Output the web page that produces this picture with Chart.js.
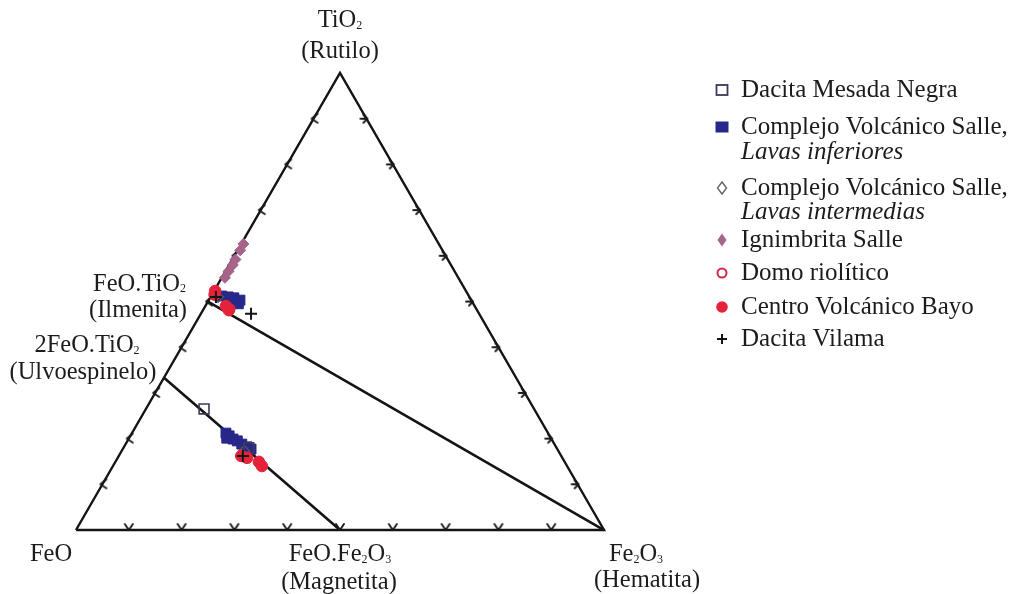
<!DOCTYPE html>
<html>
<head>
<meta charset="utf-8">
<script src="https://cdn.jsdelivr.net/npm/chart.js@4.4.1/dist/chart.umd.min.js"></script>
<style>
  html, body { margin: 0; padding: 0; background: #ffffff; }
  canvas { display: block; }
</style>
</head>
<body>
<canvas id="c" width="1011" height="594"></canvas>
<script>
// Oxide compositions, molar %: [TiO2, FeO, Fe2O3]
const dacitaMesadaNegra = [[26.5, 62.5, 11.0], [18.0, 58.3, 23.7]];
const lavasInferiores = [
  [51.2, 46.8, 2.0], [51.0, 45.7, 3.3], [50.8, 44.7, 4.5], [50.3, 43.8, 5.9],
  [49.7, 45.6, 4.7], [49.5, 44.5, 6.0],
  [21.2, 61.0, 17.8], [20.6, 60.7, 18.7], [20.1, 61.4, 18.5], [19.9, 60.3, 19.8],
  [19.5, 59.7, 20.8], [18.8, 59.2, 22.0], [18.2, 58.5, 23.3], [17.7, 58.0, 24.3]
];
const lavasIntermedias = [[51.0, 47.6, 1.4], [17.3, 59.5, 23.2]];
const ignimbritaSalle = [
  [62.6, 37.0, 0.4], [61.2, 38.3, 0.5], [59.2, 40.2, 0.6], [58.0, 41.3, 0.7],
  [56.6, 42.8, 0.6], [55.2, 44.2, 0.6]
];
const domoRiolitico = [[48.4, 46.6, 5.0], [16.0, 60.2, 23.8]];
const centroVolcanicoBayo = [
  [52.3, 47.5, 0.2], [51.5, 48.0, 0.5], [49.0, 47.1, 3.9], [48.1, 47.0, 4.9],
  [16.2, 60.6, 23.2], [15.8, 59.7, 24.5], [14.9, 57.9, 27.2], [14.0, 57.8, 28.2]
];
const dacitaVilama = [[47.3, 43.2, 9.5], [51.0, 48.0, 1.0], [16.2, 60.3, 23.5]];

// End-members
const rutilo = [100, 0, 0];
const wustita = [0, 100, 0];
const hematita = [0, 0, 100];
const ilmenita = [50, 50, 0];
const ulvoespinelo = [33.333, 66.667, 0];
const magnetita = [0, 50, 50];

// Tick positions along each side (%)
const tickSteps = [10, 20, 30, 40, 50, 60, 70, 80, 90];

// Legend text
const legendNames = ['Dacita Mesada Negra', 'Complejo Volcánico Salle,', 'Complejo Volcánico Salle,',
  'Ignimbrita Salle', 'Domo riolítico', 'Centro Volcánico Bayo', 'Dacita Vilama'];
const legendSubNames = ['', 'Lavas inferiores', 'Lavas intermedias', '', '', '', ''];

// Ternary -> plot coordinates: x across the base (FeO -> Fe2O3), y = TiO2 fraction
function toXY(c) {
  const s = c[0] + c[1] + c[2];
  const t = c[0] / s, h = c[2] / s;
  return { x: h + t / 2, y: t };
}
const pts = arr => arr.map(toXY);

// Small chevron tick glyphs, tip at the canvas centre
function chevron(kind) {
  const c = document.createElement('canvas');
  c.width = 20; c.height = 20;
  const g = c.getContext('2d');
  g.strokeStyle = '#1a1a1a';
  g.lineWidth = 1.9;
  g.lineCap = 'round';
  g.lineJoin = 'round';
  g.beginPath();
  if (kind === 'down') {
    g.moveTo(6, 4); g.lineTo(10, 10); g.lineTo(14, 4);
  } else if (kind === 'left') {
    g.moveTo(14, 5); g.lineTo(8, 10); g.lineTo(14, 14);
  } else {
    g.moveTo(7, 6); g.lineTo(11, 10); g.lineTo(7, 14);
    g.moveTo(4, 10); g.lineTo(11, 10);
  }
  g.stroke();
  return c;
}

const BLACK = '#141414';
const NAVY = '#28288a';
const MAUVE = '#a6648a';
const RED = '#e6223a';
const CRIMSON = '#cc2a4a';

function lineSet(a, b, width) {
  return {
    type: 'scatter', data: pts([a, b]), showLine: true, pointRadius: 0,
    borderColor: BLACK, borderWidth: width, order: 5
  };
}

const datasets = [
  { // triangle outline
    type: 'scatter', data: pts([wustita, hematita, rutilo, wustita]), showLine: true,
    pointRadius: 0, borderColor: BLACK, borderWidth: 2.4, order: 5
  },
  lineSet(ulvoespinelo, magnetita, 2.6),
  lineSet(ilmenita, hematita, 2.6),
  { // base ticks
    type: 'scatter', data: tickSteps.map(p => toXY([0, 100 - p, p])),
    pointStyle: chevron('down'), pointRadius: 10, order: 4
  },
  { // left side ticks
    type: 'scatter', data: tickSteps.map(p => toXY([p, 100 - p, 0])),
    pointStyle: chevron('left'), pointRadius: 10, order: 4
  },
  { // right side ticks
    type: 'scatter', data: tickSteps.map(p => toXY([p, 0, 100 - p])),
    pointStyle: chevron('right'), pointRadius: 10, order: 4
  },
  {
    label: 'Complejo Volcánico Salle, Lavas inferiores', data: pts(lavasInferiores),
    pointStyle: 'rect', pointRadius: 7, backgroundColor: NAVY, borderColor: NAVY, borderWidth: 1, order: 3
  },
  {
    label: 'Dacita Mesada Negra', data: pts(dacitaMesadaNegra),
    pointStyle: 'rect', pointRadius: 7, backgroundColor: 'rgba(0,0,0,0)', borderColor: '#3a3a5a', borderWidth: 1.6, order: 2
  },
  {
    label: 'Ignimbrita Salle', data: pts(ignimbritaSalle),
    pointStyle: 'rectRot', pointRadius: 5.5, backgroundColor: MAUVE, borderColor: MAUVE, borderWidth: 1, order: 2
  },
  {
    label: 'Complejo Volcánico Salle, Lavas intermedias', data: pts(lavasIntermedias),
    pointStyle: 'rectRot', pointRadius: 5.5, backgroundColor: 'rgba(0,0,0,0)', borderColor: '#555', borderWidth: 1.3, order: 2
  },
  {
    label: 'Centro Volcánico Bayo', data: pts(centroVolcanicoBayo),
    pointStyle: 'circle', pointRadius: 5.8, backgroundColor: RED, borderColor: RED, borderWidth: 1, order: 1
  },
  {
    label: 'Domo riolítico', data: pts(domoRiolitico),
    pointStyle: 'circle', pointRadius: 4.5, backgroundColor: 'rgba(0,0,0,0)', borderColor: CRIMSON, borderWidth: 1.8, order: 1
  },
  {
    label: 'Dacita Vilama', data: pts(dacitaVilama),
    pointStyle: 'cross', pointRadius: 6, backgroundColor: BLACK, borderColor: BLACK, borderWidth: 2, order: 0
  }
];

// Serif label text
const FAMILY = '"Liberation Serif", "Times New Roman", serif';
const SIZE = 24.5;
const LEGEND_SIZE = 25;
function fontFor(r, size) {
  const s = r.sub ? Math.round(size * 0.5) : size;
  return (r.italic ? 'italic ' : '') + s + 'px ' + FAMILY;
}
function runsWidth(ctx, runs, size) {
  let w = 0;
  for (const r of runs) { ctx.font = fontFor(r, size); w += ctx.measureText(r.t).width; }
  return w;
}
function drawRuns(ctx, runs, x, y, align, size) {
  size = size || SIZE;
  const w = runsWidth(ctx, runs, size);
  const start = align === 'center' ? x - w / 2 : align === 'right' ? x - w : x;
  ctx.save();
  ctx.translate(start, y);
  ctx.fillStyle = '#1c1c1c';
  ctx.textBaseline = 'alphabetic';
  ctx.textAlign = 'left';
  let cx = 0;
  for (const r of runs) {
    ctx.font = fontFor(r, size);
    ctx.fillText(r.t, cx, r.sub ? size * 0.08 : 0);
    cx += ctx.measureText(r.t).width;
  }
  ctx.restore();
}
const T = t => ({ t });
const S = t => ({ t, sub: true });
const I = t => ({ t, italic: true });

const labelsPlugin = {
  id: 'ternaryLabels',
  afterDraw(chart) {
    const ctx = chart.ctx;
    const xs = chart.scales.x, ys = chart.scales.y;
    const px = c => { const p = toXY(c); return [xs.getPixelForValue(p.x), ys.getPixelForValue(p.y)]; };

    // Vertex and mineral labels
    const [ax, ay] = px(rutilo);
    drawRuns(ctx, [T('TiO'), S('2')], ax, ay - 46, 'center');
    drawRuns(ctx, [T('(Rutilo)')], ax, ay - 15, 'center');

    const [ix, iy] = px(ilmenita);
    drawRuns(ctx, [T('FeO.TiO'), S('2')], ix - 22, iy - 11, 'right');
    drawRuns(ctx, [T('(Ilmenita)')], ix - 21, iy + 15, 'right');

    const [ux, uy] = px(ulvoespinelo);
    drawRuns(ctx, [T('2FeO.TiO'), S('2')], ux - 77, uy - 26, 'center');
    drawRuns(ctx, [T('(Ulvoespinelo)')], ux - 81, uy + 1, 'center');

    const [fx, fy] = px(wustita);
    drawRuns(ctx, [T('FeO')], fx - 25, fy + 31, 'center');

    const [mx, my] = px(magnetita);
    drawRuns(ctx, [T('FeO.Fe'), S('2'), T('O'), S('3')], mx, my + 31, 'center');
    drawRuns(ctx, [T('(Magnetita)')], mx - 1, my + 59, 'center');

    const [hx, hy] = px(hematita);
    drawRuns(ctx, [T('Fe'), S('2'), T('O'), S('3')], hx + 32, hy + 31, 'center');
    drawRuns(ctx, [T('(Hematita)')], hx + 43, hy + 57, 'center');

    // Legend
    const mxL = 722, tx = 741;
    const rows = [90, 127, 188, 240, 273, 307, 339];
    const subRows = [0, 152, 212, 0, 0, 0, 0];
    rows.forEach((cy, i) => {
      drawLegendMarker(ctx, i, mxL, cy);
      drawRuns(ctx, [T(legendNames[i])], tx, cy + 7, 'left', LEGEND_SIZE);
      if (legendSubNames[i]) drawRuns(ctx, [I(legendSubNames[i])], tx, subRows[i] + 7, 'left', LEGEND_SIZE);
    });
  }
};

function drawLegendMarker(ctx, i, x, y) {
  ctx.save();
  ctx.lineJoin = 'miter';
  switch (i) {
    case 0:
      ctx.strokeStyle = '#3a3a5a'; ctx.lineWidth = 1.8;
      ctx.strokeRect(x - 5.5, y - 5, 11, 10);
      break;
    case 1:
      ctx.fillStyle = NAVY;
      ctx.fillRect(x - 6.5, y - 5.5, 13, 11);
      break;
    case 2:
      ctx.strokeStyle = '#666'; ctx.lineWidth = 1.4;
      ctx.beginPath(); ctx.moveTo(x, y - 6); ctx.lineTo(x + 4.5, y); ctx.lineTo(x, y + 6); ctx.lineTo(x - 4.5, y); ctx.closePath(); ctx.stroke();
      break;
    case 3:
      ctx.fillStyle = MAUVE;
      ctx.beginPath(); ctx.moveTo(x, y - 6.5); ctx.lineTo(x + 4.5, y); ctx.lineTo(x, y + 6.5); ctx.lineTo(x - 4.5, y); ctx.closePath(); ctx.fill();
      break;
    case 4:
      ctx.strokeStyle = CRIMSON; ctx.lineWidth = 2;
      ctx.beginPath(); ctx.arc(x, y, 4.5, 0, Math.PI * 2); ctx.stroke();
      break;
    case 5:
      ctx.fillStyle = RED;
      ctx.beginPath(); ctx.arc(x, y, 5.8, 0, Math.PI * 2); ctx.fill();
      break;
    case 6:
      ctx.strokeStyle = BLACK; ctx.lineWidth = 2;
      ctx.beginPath(); ctx.moveTo(x - 5, y); ctx.lineTo(x + 5, y); ctx.moveTo(x, y - 5); ctx.lineTo(x, y + 5); ctx.stroke();
      break;
  }
  ctx.restore();
}

new Chart(document.getElementById('c'), {
  type: 'scatter',
  data: { datasets },
  options: {
    responsive: false,
    animation: false,
    layout: { padding: 0, autoPadding: false },
    plugins: { legend: { display: false }, tooltip: { enabled: false } },
    scales: {
      x: { type: 'linear', display: false, min: -0.14394, max: 1.77083 },
      y: { type: 'linear', display: false, min: -0.14004, max: 1.15974 }
    }
  },
  plugins: [labelsPlugin]
});
</script>
</body>
</html>
